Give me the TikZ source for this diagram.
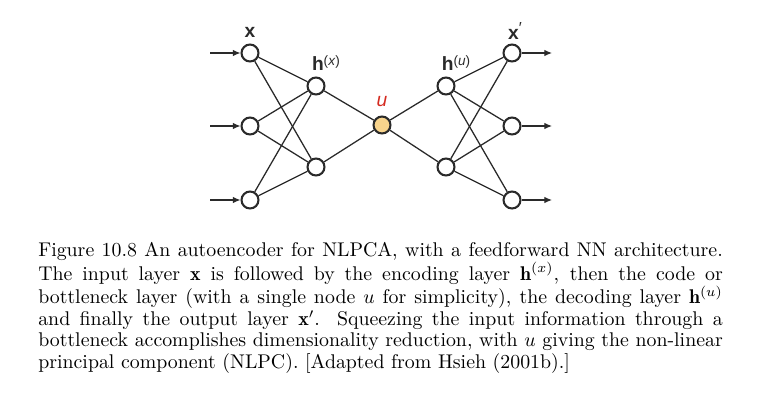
\documentclass[tikz,border=0pt]{standalone}
\usepackage{fontspec}
\newfontfamily\lab{Liberation Sans}
\usetikzlibrary{arrows.meta}
\definecolor{ln}{HTML}{2A2A2A}
\definecolor{ufill}{HTML}{F8D48C}
\definecolor{ured}{HTML}{D42A20}
\tikzset{
  neuron/.style={circle, draw=ln, line width=1.3pt, fill=white, minimum size=10.6pt, inner sep=0pt},
  code/.style={neuron, fill=ufill},
  wire/.style={draw=ln, line width=0.8pt},
  feed/.style={wire, -{Latex[length=4.8pt,width=4.2pt]}},
  lbl/.style={font=\lab\fontsize{12}{14}\selectfont, text=ln, inner sep=0pt},
}
\newcommand{\supr}[1]{\raisebox{0.55ex}{\mdseries\lab\fontsize{8.5}{9}\selectfont(\textit{#1})}}
\begin{document}
\begin{tikzpicture}[x=0.625pt, y=-0.625pt]
\useasboundingbox (0,0) rectangle (770,408);
% nodes
\node[neuron] (i1) at (250,53) {};
\node[neuron] (i2) at (250,126) {};
\node[neuron] (i3) at (250,200) {};
\node[neuron] (h1) at (316,86) {};
\node[neuron] (h2) at (316,167) {};
\node[code]   (u)  at (382,125) {};
\node[neuron] (g1) at (446,86) {};
\node[neuron] (g2) at (446,167) {};
\node[neuron] (o1) at (512,53) {};
\node[neuron] (o2) at (512,126) {};
\node[neuron] (o3) at (512,200) {};
\coordinate (s1) at (210,53);
\coordinate (s2) at (210,126);
\coordinate (s3) at (210,200);
\coordinate (e1) at (552,53);
\coordinate (e2) at (552,126);
\coordinate (e3) at (552,200);
% connections
\foreach \a in {i1,i2,i3}{\foreach \b in {h1,h2}{\path[wire] (\a) -- (\b);}}
\foreach \a in {h1,h2}{\path[wire] (\a) -- (u);}
\foreach \b in {g1,g2}{\path[wire] (u) -- (\b);}
\foreach \a in {g1,g2}{\foreach \b in {o1,o2,o3}{\path[wire] (\a) -- (\b);}}
\foreach \k in {1,2,3}{\path[feed] (s\k) -- (i\k); \path[feed] (o\k) -- (e\k);}
% labels
\node[lbl] (lx) at (250,32) {\bfseries x};
\node[lbl] (lhx) at (326,63) {\bfseries h\supr{x}};
\node[lbl, text=ured] (lu) at (382,102) {\itshape u};
\node[lbl] (lhu) at (456,63) {\bfseries h\supr{u}};
\node[lbl] (lxp) at (515,31) {\bfseries x\raisebox{0.5ex}{\mdseries\fontsize{10}{10}\selectfont\char"2032}};
% caption
\node[anchor=base west, inner sep=0pt] (cap) at (38,256.5) {\scalebox{1.24}{\parbox[t]{345pt}{\fontsize{10}{10.84}\selectfont
Figure 10.8 An autoencoder for NLPCA, with a feedforward NN architecture.\linebreak
The input layer $\mathbf{x}$ is followed by the encoding layer $\mathbf{h}^{(x)}$, then the code or\linebreak
bottleneck layer (with a single node $u$ for simplicity), the decoding layer $\mathbf{h}^{(u)}$\linebreak
and finally the output layer $\mathbf{x}'$. Squeezing the input information through a\linebreak
bottleneck accomplishes dimensionality reduction, with $u$ giving the non-linear\linebreak
principal component (NLPC). [Adapted from Hsieh (2001b).]}}};
\end{tikzpicture}
\end{document}
